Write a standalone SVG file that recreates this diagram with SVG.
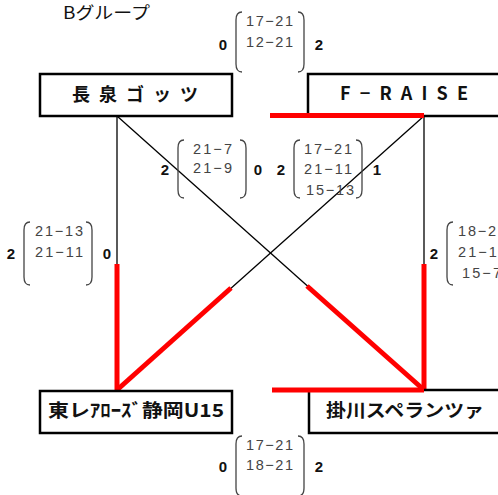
<svg xmlns="http://www.w3.org/2000/svg" width="498" height="495" viewBox="0 0 498 495">
<style>
.box{fill:#fff;stroke:#000;stroke-width:2.5}
.lbl{font-family:"Noto Sans CJK JP","Liberation Sans",sans-serif;font-weight:bold;font-size:18px;fill:#111}
.sc{font-family:"Liberation Sans","DejaVu Sans",sans-serif;font-size:14.5px;fill:#444}
.pt{font-family:"Liberation Sans","DejaVu Sans",sans-serif;font-size:15px;font-weight:bold;fill:#111;text-anchor:middle}
.br{fill:none;stroke:#444;stroke-width:1.3}
.thin{stroke:#000;stroke-width:1.3;fill:none}
.win{stroke:#f00;stroke-width:5;fill:none}
</style>
<rect width="498" height="495" fill="#fff"/>
<text x="63" y="19" font-family="Noto Sans CJK JP, sans-serif" font-size="17" fill="#111" textLength="87" lengthAdjust="spacingAndGlyphs">Bグループ</text>

<g id="connectors">
<line class="thin" x1="117" y1="116" x2="117" y2="391"/>
<line class="thin" x1="424" y1="116" x2="424" y2="391"/>
<line class="thin" x1="117" y1="116" x2="424" y2="390"/>
<line class="thin" x1="424" y1="116" x2="117" y2="390"/>
<line class="win" x1="117" y1="264" x2="117" y2="390"/>
<line class="win" x1="424" y1="264" x2="424" y2="390"/>
<line class="win" x1="307" y1="286" x2="424" y2="390"/>
<line class="win" x1="231" y1="288" x2="117" y2="390"/>
</g>

<g id="node-nagaizumi">
<rect class="box" x="40" y="74" width="192" height="42"/>
<text class="lbl" x="72" y="101" textLength="126" lengthAdjust="spacing">長泉ゴッツ</text>
</g>
<g id="node-fraise">
<rect class="box" x="308" y="74" width="200" height="42"/>
<text class="lbl" x="340" y="100" font-size="19" textLength="128" lengthAdjust="spacing">F−RAISE</text>
</g>
<g id="node-toray">
<rect class="box" x="40" y="391" width="192" height="42"/>
<text class="lbl" x="48" y="417" textLength="176" lengthAdjust="spacingAndGlyphs">東レｱﾛｰｽﾞ静岡U15</text>
</g>
<g id="node-kakegawa">
<rect class="box" x="309" y="390" width="200" height="43"/>
<text class="lbl" x="326" y="417" font-size="19" textLength="158" lengthAdjust="spacingAndGlyphs">掛川スペランツァ</text>
</g>

<g id="red-edges">
<line class="win" x1="270" y1="115.5" x2="424" y2="115.5" stroke-width="4.5"/>
<line class="win" x1="272" y1="390" x2="424" y2="390" stroke-width="4.5"/>
</g>

<g id="score-top">
<text class="pt" x="223" y="50">0</text>
<path class="br" d="M242 12 Q236 12 236 20 V64 Q236 72 242 72"/>
<path class="br" d="M298 12 Q304 12 304 20 V64 Q304 72 298 72"/>
<text class="sc" x="246" y="26" textLength="47">17−21</text>
<text class="sc" x="246" y="47" textLength="47">12−21</text>
<text class="pt" x="319" y="50">2</text>
</g>

<g id="score-mid-left">
<text class="pt" x="165" y="175">2</text>
<path class="br" d="M184 140 Q178 140 178 148 V190 Q178 198 184 198"/>
<path class="br" d="M240 140 Q246 140 246 148 V190 Q246 198 240 198"/>
<text class="sc" x="193" y="154" textLength="39">21−7</text>
<text class="sc" x="193" y="173" textLength="39">21−9</text>
<text class="pt" x="258" y="175">0</text>
</g>

<g id="score-mid-right">
<text class="pt" x="281" y="175">2</text>
<path class="br" d="M300 140 Q294 140 294 148 V190 Q294 198 300 198"/>
<path class="br" d="M356 140 Q362 140 362 148 V190 Q362 198 356 198"/>
<text class="sc" x="304" y="154" textLength="48">17−21</text>
<text class="sc" x="304" y="174" textLength="48">21−11</text>
<text class="sc" x="306" y="195" textLength="48">15−13</text>
<text class="pt" x="377" y="175">1</text>
</g>

<g id="score-left">
<text class="pt" x="11" y="259">2</text>
<path class="br" d="M30 222 Q24 222 24 230 V277 Q24 285 30 285"/>
<path class="br" d="M86 222 Q92 222 92 230 V277 Q92 285 86 285"/>
<text class="sc" x="35" y="236" textLength="48">21−13</text>
<text class="sc" x="35" y="257" textLength="48">21−11</text>
<text class="pt" x="107" y="259">0</text>
</g>

<g id="score-right">
<text class="pt" x="434" y="259">2</text>
<path class="br" d="M453 222 Q447 222 447 230 V277 Q447 285 453 285"/>
<text class="sc" x="458" y="236" textLength="48">18−21</text>
<text class="sc" x="458" y="257" textLength="48">21−11</text>
<text class="sc" x="462" y="278" textLength="39">15−7</text>
</g>

<g id="score-bottom">
<text class="pt" x="223" y="472">0</text>
<path class="br" d="M242 436 Q236 436 236 444 V488 Q236 496 242 496"/>
<path class="br" d="M298 436 Q304 436 304 444 V488 Q304 496 298 496"/>
<text class="sc" x="246" y="450" textLength="47">17−21</text>
<text class="sc" x="246" y="470" textLength="47">18−21</text>
<text class="pt" x="319" y="472">2</text>
</g>
</svg>
